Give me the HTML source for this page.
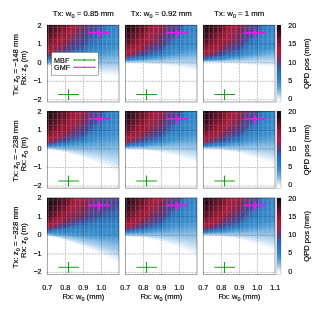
<!DOCTYPE html>
<html><head><meta charset="utf-8"><style>
html,body{margin:0;padding:0;background:#fff;width:313px;height:313px;overflow:hidden}
#c{position:absolute;left:0;top:0}
svg{position:absolute;left:0;top:0}
text{font-family:"Liberation Sans",sans-serif;fill:#000;stroke:#000;stroke-width:0.16px}
</style></head><body>
<svg width="313" height="313" viewBox="0 0 313 313"><defs><linearGradient id="cbg" x1="0" y1="0" x2="0" y2="1"><stop offset="0.0000" stop-color="#111111"/><stop offset="0.0475" stop-color="#1e0a12"/><stop offset="0.1188" stop-color="#4a0b20"/><stop offset="0.1901" stop-color="#7a0f2c"/><stop offset="0.2614" stop-color="#9a1636"/><stop offset="0.3327" stop-color="#b01a40"/><stop offset="0.3803" stop-color="#a81e48"/><stop offset="0.4278" stop-color="#8a2a5e"/><stop offset="0.4753" stop-color="#603a80"/><stop offset="0.5229" stop-color="#3f4c9c"/><stop offset="0.5704" stop-color="#2e62b0"/><stop offset="0.6322" stop-color="#2575c2"/><stop offset="0.6892" stop-color="#2a7ec6"/><stop offset="0.7368" stop-color="#2f88cc"/><stop offset="0.8128" stop-color="#58a2d9"/><stop offset="0.8794" stop-color="#95c3e6"/><stop offset="0.9174" stop-color="#c4def2"/><stop offset="0.9506" stop-color="#e8f2fa"/><stop offset="0.9982" stop-color="#ffffff"/></linearGradient></defs><rect x="47" y="25" width="6.3" height="6.3" fill="#370a19"/><rect x="53" y="25" width="6.3" height="6.3" fill="#5c0d24"/><rect x="59" y="25" width="6.3" height="6.3" fill="#77112b"/><rect x="65" y="25" width="6.3" height="6.3" fill="#981633"/><rect x="71" y="25" width="6.3" height="6.3" fill="#9e1c41"/><rect x="77" y="25" width="6.3" height="6.3" fill="#802757"/><rect x="83" y="25" width="6.3" height="6.3" fill="#5f377b"/><rect x="89" y="25" width="6.3" height="6.3" fill="#4b4391"/><rect x="95" y="25" width="6.3" height="6.3" fill="#3857a6"/><rect x="101" y="25" width="6.3" height="6.3" fill="#2e6eb8"/><rect x="107" y="25" width="6.3" height="6.3" fill="#2b7ec5"/><rect x="113" y="25" width="6.3" height="6.3" fill="#2e83c8"/><rect x="47" y="31" width="6.3" height="6.3" fill="#530c21"/><rect x="53" y="31" width="6.3" height="6.3" fill="#73102a"/><rect x="59" y="31" width="6.3" height="6.3" fill="#931532"/><rect x="65" y="31" width="6.3" height="6.3" fill="#a5193b"/><rect x="71" y="31" width="6.3" height="6.3" fill="#862552"/><rect x="77" y="31" width="6.3" height="6.3" fill="#683270"/><rect x="83" y="31" width="6.3" height="6.3" fill="#513f8c"/><rect x="89" y="31" width="6.3" height="6.3" fill="#3b52a1"/><rect x="95" y="31" width="6.3" height="6.3" fill="#2f69b5"/><rect x="101" y="31" width="6.3" height="6.3" fill="#2b7ac2"/><rect x="107" y="31" width="6.3" height="6.3" fill="#2e82c8"/><rect x="113" y="31" width="6.3" height="6.3" fill="#3086ca"/><rect x="47" y="37" width="6.3" height="6.3" fill="#701029"/><rect x="53" y="37" width="6.3" height="6.3" fill="#941532"/><rect x="59" y="37" width="6.3" height="6.3" fill="#a71839"/><rect x="65" y="37" width="6.3" height="6.3" fill="#90224b"/><rect x="71" y="37" width="6.3" height="6.3" fill="#683270"/><rect x="77" y="37" width="6.3" height="6.3" fill="#533e8a"/><rect x="83" y="37" width="6.3" height="6.3" fill="#404b9b"/><rect x="89" y="37" width="6.3" height="6.3" fill="#2f68b4"/><rect x="95" y="37" width="6.3" height="6.3" fill="#2c76bf"/><rect x="101" y="37" width="6.3" height="6.3" fill="#2d82c7"/><rect x="107" y="37" width="6.3" height="6.3" fill="#3187cb"/><rect x="113" y="37" width="6.3" height="6.3" fill="#348acd"/><rect x="47" y="43" width="6.3" height="6.3" fill="#961533"/><rect x="53" y="43" width="6.3" height="6.3" fill="#a31a3c"/><rect x="59" y="43" width="6.3" height="6.3" fill="#8e224d"/><rect x="65" y="43" width="6.3" height="6.3" fill="#683271"/><rect x="71" y="43" width="6.3" height="6.3" fill="#4e418f"/><rect x="77" y="43" width="6.3" height="6.3" fill="#3e4e9d"/><rect x="83" y="43" width="6.3" height="6.3" fill="#3067b3"/><rect x="89" y="43" width="6.3" height="6.3" fill="#2b78c1"/><rect x="95" y="43" width="6.3" height="6.3" fill="#2e83c8"/><rect x="101" y="43" width="6.3" height="6.3" fill="#3289cc"/><rect x="107" y="43" width="6.3" height="6.3" fill="#358dce"/><rect x="113" y="43" width="6.3" height="6.3" fill="#378fcf"/><rect x="47" y="49" width="6.3" height="6.3" fill="#9c1d43"/><rect x="53" y="49" width="6.3" height="6.3" fill="#702e67"/><rect x="59" y="49" width="6.3" height="6.3" fill="#533e8a"/><rect x="65" y="49" width="6.3" height="6.3" fill="#3e4e9d"/><rect x="71" y="49" width="6.3" height="6.3" fill="#3165b1"/><rect x="77" y="49" width="6.3" height="6.3" fill="#2e6eb8"/><rect x="83" y="49" width="6.3" height="6.3" fill="#2b7ec5"/><rect x="89" y="49" width="6.3" height="6.3" fill="#338acc"/><rect x="95" y="49" width="6.3" height="6.3" fill="#378fcf"/><rect x="101" y="49" width="6.3" height="6.3" fill="#3e94d2"/><rect x="107" y="49" width="6.3" height="6.3" fill="#4799d4"/><rect x="113" y="49" width="6.3" height="6.3" fill="#4e9dd7"/><rect x="47" y="55" width="6.3" height="6.3" fill="#3065b1"/><rect x="53" y="55" width="6.3" height="6.3" fill="#2d72bc"/><rect x="59" y="55" width="6.3" height="6.3" fill="#2b7dc5"/><rect x="65" y="55" width="6.3" height="6.3" fill="#3086ca"/><rect x="71" y="55" width="6.3" height="6.3" fill="#3a91d1"/><rect x="77" y="55" width="6.3" height="6.3" fill="#4497d4"/><rect x="83" y="55" width="6.3" height="6.3" fill="#4e9dd7"/><rect x="89" y="55" width="6.3" height="6.3" fill="#58a3da"/><rect x="95" y="55" width="6.3" height="6.3" fill="#60a8dc"/><rect x="101" y="55" width="6.3" height="6.3" fill="#6aadde"/><rect x="107" y="55" width="6.3" height="6.3" fill="#72b2e0"/><rect x="113" y="55" width="6.3" height="6.3" fill="#79b5e1"/><rect x="47" y="61" width="6.3" height="6.3" fill="#a5cdeb"/><rect x="53" y="61" width="6.3" height="6.3" fill="#9bc8e9"/><rect x="59" y="61" width="6.3" height="6.3" fill="#96c5e8"/><rect x="65" y="61" width="6.3" height="6.3" fill="#94c4e7"/><rect x="71" y="61" width="6.3" height="6.3" fill="#95c4e7"/><rect x="77" y="61" width="6.3" height="6.3" fill="#95c4e7"/><rect x="83" y="61" width="6.3" height="6.3" fill="#97c5e8"/><rect x="89" y="61" width="6.3" height="6.3" fill="#99c7e8"/><rect x="95" y="61" width="6.3" height="6.3" fill="#9cc8e9"/><rect x="101" y="61" width="6.3" height="6.3" fill="#9ec9e9"/><rect x="107" y="61" width="6.3" height="6.3" fill="#a0caea"/><rect x="113" y="61" width="6.3" height="6.3" fill="#a2cbea"/><rect x="71" y="67" width="6.3" height="6.3" fill="#f9fcfe"/><rect x="77" y="67" width="6.3" height="6.3" fill="#eff6fc"/><rect x="83" y="67" width="6.3" height="6.3" fill="#e7f1fa"/><rect x="89" y="67" width="6.3" height="6.3" fill="#e0eef8"/><rect x="95" y="67" width="6.3" height="6.3" fill="#dbebf7"/><rect x="101" y="67" width="6.3" height="6.3" fill="#d6e8f6"/><rect x="107" y="67" width="6.3" height="6.3" fill="#d3e6f5"/><rect x="113" y="67" width="6.3" height="6.3" fill="#d1e5f5"/><rect x="113" y="73" width="6.3" height="6.3" fill="#f9fcfe"/><rect x="125" y="25" width="6.3" height="6.3" fill="#200a12"/><rect x="131" y="25" width="6.3" height="6.3" fill="#400b1c"/><rect x="137" y="25" width="6.3" height="6.3" fill="#5f0e25"/><rect x="143" y="25" width="6.3" height="6.3" fill="#7c122c"/><rect x="149" y="25" width="6.3" height="6.3" fill="#9e1735"/><rect x="155" y="25" width="6.3" height="6.3" fill="#9d1d41"/><rect x="161" y="25" width="6.3" height="6.3" fill="#802756"/><rect x="167" y="25" width="6.3" height="6.3" fill="#593a83"/><rect x="173" y="25" width="6.3" height="6.3" fill="#4c4290"/><rect x="179" y="25" width="6.3" height="6.3" fill="#3068b3"/><rect x="185" y="25" width="6.3" height="6.3" fill="#2b7ec5"/><rect x="191" y="25" width="6.3" height="6.3" fill="#2e83c8"/><rect x="125" y="31" width="6.3" height="6.3" fill="#310a17"/><rect x="131" y="31" width="6.3" height="6.3" fill="#5a0d23"/><rect x="137" y="31" width="6.3" height="6.3" fill="#74102a"/><rect x="143" y="31" width="6.3" height="6.3" fill="#951533"/><rect x="149" y="31" width="6.3" height="6.3" fill="#a11b3e"/><rect x="155" y="31" width="6.3" height="6.3" fill="#8d234d"/><rect x="161" y="31" width="6.3" height="6.3" fill="#69326f"/><rect x="167" y="31" width="6.3" height="6.3" fill="#4e418e"/><rect x="173" y="31" width="6.3" height="6.3" fill="#3957a5"/><rect x="179" y="31" width="6.3" height="6.3" fill="#2b7ac2"/><rect x="185" y="31" width="6.3" height="6.3" fill="#2e82c8"/><rect x="191" y="31" width="6.3" height="6.3" fill="#3086ca"/><rect x="125" y="37" width="6.3" height="6.3" fill="#530c21"/><rect x="131" y="37" width="6.3" height="6.3" fill="#76112a"/><rect x="137" y="37" width="6.3" height="6.3" fill="#931532"/><rect x="143" y="37" width="6.3" height="6.3" fill="#a61939"/><rect x="149" y="37" width="6.3" height="6.3" fill="#8d234d"/><rect x="155" y="37" width="6.3" height="6.3" fill="#782a5c"/><rect x="161" y="37" width="6.3" height="6.3" fill="#533e8a"/><rect x="167" y="37" width="6.3" height="6.3" fill="#3956a4"/><rect x="173" y="37" width="6.3" height="6.3" fill="#2c75be"/><rect x="179" y="37" width="6.3" height="6.3" fill="#2d82c7"/><rect x="185" y="37" width="6.3" height="6.3" fill="#3187cb"/><rect x="191" y="37" width="6.3" height="6.3" fill="#348acd"/><rect x="125" y="43" width="6.3" height="6.3" fill="#78112b"/><rect x="131" y="43" width="6.3" height="6.3" fill="#991634"/><rect x="137" y="43" width="6.3" height="6.3" fill="#a61939"/><rect x="143" y="43" width="6.3" height="6.3" fill="#8c234e"/><rect x="149" y="43" width="6.3" height="6.3" fill="#69326e"/><rect x="155" y="43" width="6.3" height="6.3" fill="#523e8a"/><rect x="161" y="43" width="6.3" height="6.3" fill="#3a55a3"/><rect x="167" y="43" width="6.3" height="6.3" fill="#2b78c1"/><rect x="173" y="43" width="6.3" height="6.3" fill="#2e83c8"/><rect x="179" y="43" width="6.3" height="6.3" fill="#3289cc"/><rect x="185" y="43" width="6.3" height="6.3" fill="#358dce"/><rect x="191" y="43" width="6.3" height="6.3" fill="#378fcf"/><rect x="125" y="49" width="6.3" height="6.3" fill="#a31737"/><rect x="131" y="49" width="6.3" height="6.3" fill="#9a1e44"/><rect x="137" y="49" width="6.3" height="6.3" fill="#722d63"/><rect x="143" y="49" width="6.3" height="6.3" fill="#513f8b"/><rect x="149" y="49" width="6.3" height="6.3" fill="#3b52a1"/><rect x="155" y="49" width="6.3" height="6.3" fill="#3067b3"/><rect x="161" y="49" width="6.3" height="6.3" fill="#2b7ec5"/><rect x="167" y="49" width="6.3" height="6.3" fill="#338acc"/><rect x="173" y="49" width="6.3" height="6.3" fill="#378fcf"/><rect x="179" y="49" width="6.3" height="6.3" fill="#4195d3"/><rect x="185" y="49" width="6.3" height="6.3" fill="#4c9cd6"/><rect x="191" y="49" width="6.3" height="6.3" fill="#54a1d9"/><rect x="125" y="55" width="6.3" height="6.3" fill="#3d509f"/><rect x="131" y="55" width="6.3" height="6.3" fill="#2e6fb9"/><rect x="137" y="55" width="6.3" height="6.3" fill="#2b7dc5"/><rect x="143" y="55" width="6.3" height="6.3" fill="#3086ca"/><rect x="149" y="55" width="6.3" height="6.3" fill="#3c92d1"/><rect x="155" y="55" width="6.3" height="6.3" fill="#4e9dd7"/><rect x="161" y="55" width="6.3" height="6.3" fill="#5ea7db"/><rect x="167" y="55" width="6.3" height="6.3" fill="#71b1e0"/><rect x="173" y="55" width="6.3" height="6.3" fill="#7eb8e3"/><rect x="179" y="55" width="6.3" height="6.3" fill="#86bce4"/><rect x="185" y="55" width="6.3" height="6.3" fill="#8abee5"/><rect x="191" y="55" width="6.3" height="6.3" fill="#8cc0e6"/><rect x="149" y="61" width="6.3" height="6.3" fill="#fafcfe"/><rect x="155" y="61" width="6.3" height="6.3" fill="#eff6fc"/><rect x="161" y="61" width="6.3" height="6.3" fill="#e5f0f9"/><rect x="167" y="61" width="6.3" height="6.3" fill="#dbebf7"/><rect x="173" y="61" width="6.3" height="6.3" fill="#d5e7f6"/><rect x="179" y="61" width="6.3" height="6.3" fill="#cfe4f4"/><rect x="185" y="61" width="6.3" height="6.3" fill="#c9e1f3"/><rect x="191" y="61" width="6.3" height="6.3" fill="#c5dff2"/><rect x="191" y="67" width="6.3" height="6.3" fill="#fafcfe"/><rect x="203" y="25" width="6.3" height="6.3" fill="#200a12"/><rect x="209" y="25" width="6.3" height="6.3" fill="#400b1c"/><rect x="215" y="25" width="6.3" height="6.3" fill="#5f0e25"/><rect x="221" y="25" width="6.3" height="6.3" fill="#7c122c"/><rect x="227" y="25" width="6.3" height="6.3" fill="#9e1735"/><rect x="233" y="25" width="6.3" height="6.3" fill="#9d1d41"/><rect x="239" y="25" width="6.3" height="6.3" fill="#802756"/><rect x="245" y="25" width="6.3" height="6.3" fill="#593a83"/><rect x="251" y="25" width="6.3" height="6.3" fill="#4c4290"/><rect x="257" y="25" width="6.3" height="6.3" fill="#3068b3"/><rect x="263" y="25" width="6.3" height="6.3" fill="#2b7ec5"/><rect x="269" y="25" width="6.3" height="6.3" fill="#2e83c8"/><rect x="203" y="31" width="6.3" height="6.3" fill="#310a17"/><rect x="209" y="31" width="6.3" height="6.3" fill="#5a0d23"/><rect x="215" y="31" width="6.3" height="6.3" fill="#74102a"/><rect x="221" y="31" width="6.3" height="6.3" fill="#951533"/><rect x="227" y="31" width="6.3" height="6.3" fill="#a11b3e"/><rect x="233" y="31" width="6.3" height="6.3" fill="#8d234d"/><rect x="239" y="31" width="6.3" height="6.3" fill="#69326f"/><rect x="245" y="31" width="6.3" height="6.3" fill="#4e418e"/><rect x="251" y="31" width="6.3" height="6.3" fill="#3957a5"/><rect x="257" y="31" width="6.3" height="6.3" fill="#2b7ac2"/><rect x="263" y="31" width="6.3" height="6.3" fill="#2e82c8"/><rect x="269" y="31" width="6.3" height="6.3" fill="#3086ca"/><rect x="203" y="37" width="6.3" height="6.3" fill="#530c21"/><rect x="209" y="37" width="6.3" height="6.3" fill="#76112a"/><rect x="215" y="37" width="6.3" height="6.3" fill="#931532"/><rect x="221" y="37" width="6.3" height="6.3" fill="#a61939"/><rect x="227" y="37" width="6.3" height="6.3" fill="#8d234d"/><rect x="233" y="37" width="6.3" height="6.3" fill="#782a5c"/><rect x="239" y="37" width="6.3" height="6.3" fill="#533e8a"/><rect x="245" y="37" width="6.3" height="6.3" fill="#3956a4"/><rect x="251" y="37" width="6.3" height="6.3" fill="#2c75be"/><rect x="257" y="37" width="6.3" height="6.3" fill="#2d82c7"/><rect x="263" y="37" width="6.3" height="6.3" fill="#3187cb"/><rect x="269" y="37" width="6.3" height="6.3" fill="#348acd"/><rect x="203" y="43" width="6.3" height="6.3" fill="#78112b"/><rect x="209" y="43" width="6.3" height="6.3" fill="#991634"/><rect x="215" y="43" width="6.3" height="6.3" fill="#a61939"/><rect x="221" y="43" width="6.3" height="6.3" fill="#8c234e"/><rect x="227" y="43" width="6.3" height="6.3" fill="#69326e"/><rect x="233" y="43" width="6.3" height="6.3" fill="#523e8a"/><rect x="239" y="43" width="6.3" height="6.3" fill="#3a55a3"/><rect x="245" y="43" width="6.3" height="6.3" fill="#2b78c1"/><rect x="251" y="43" width="6.3" height="6.3" fill="#2e83c8"/><rect x="257" y="43" width="6.3" height="6.3" fill="#3289cc"/><rect x="263" y="43" width="6.3" height="6.3" fill="#358dce"/><rect x="269" y="43" width="6.3" height="6.3" fill="#378fcf"/><rect x="203" y="49" width="6.3" height="6.3" fill="#a31737"/><rect x="209" y="49" width="6.3" height="6.3" fill="#9a1e44"/><rect x="215" y="49" width="6.3" height="6.3" fill="#722d63"/><rect x="221" y="49" width="6.3" height="6.3" fill="#513f8b"/><rect x="227" y="49" width="6.3" height="6.3" fill="#3b52a1"/><rect x="233" y="49" width="6.3" height="6.3" fill="#3067b3"/><rect x="239" y="49" width="6.3" height="6.3" fill="#2b7ec5"/><rect x="245" y="49" width="6.3" height="6.3" fill="#338acc"/><rect x="251" y="49" width="6.3" height="6.3" fill="#378fcf"/><rect x="257" y="49" width="6.3" height="6.3" fill="#4296d3"/><rect x="263" y="49" width="6.3" height="6.3" fill="#4f9ed7"/><rect x="269" y="49" width="6.3" height="6.3" fill="#59a4da"/><rect x="203" y="55" width="6.3" height="6.3" fill="#3d509f"/><rect x="209" y="55" width="6.3" height="6.3" fill="#2e6fb9"/><rect x="215" y="55" width="6.3" height="6.3" fill="#2b7dc5"/><rect x="221" y="55" width="6.3" height="6.3" fill="#3086ca"/><rect x="227" y="55" width="6.3" height="6.3" fill="#3d93d1"/><rect x="233" y="55" width="6.3" height="6.3" fill="#529fd8"/><rect x="239" y="55" width="6.3" height="6.3" fill="#66abdd"/><rect x="245" y="55" width="6.3" height="6.3" fill="#7db8e2"/><rect x="251" y="55" width="6.3" height="6.3" fill="#89bee5"/><rect x="257" y="55" width="6.3" height="6.3" fill="#90c2e6"/><rect x="263" y="55" width="6.3" height="6.3" fill="#95c5e7"/><rect x="269" y="55" width="6.3" height="6.3" fill="#99c7e8"/><rect x="239" y="61" width="6.3" height="6.3" fill="#fbfdfe"/><rect x="245" y="61" width="6.3" height="6.3" fill="#f2f8fc"/><rect x="251" y="61" width="6.3" height="6.3" fill="#ecf4fb"/><rect x="257" y="61" width="6.3" height="6.3" fill="#e8f2fa"/><rect x="263" y="61" width="6.3" height="6.3" fill="#e3eff9"/><rect x="269" y="61" width="6.3" height="6.3" fill="#dfedf8"/><rect x="47" y="111.2" width="6.3" height="6.3" fill="#200a12"/><rect x="53" y="111.2" width="6.3" height="6.3" fill="#400b1c"/><rect x="59" y="111.2" width="6.3" height="6.3" fill="#5f0e25"/><rect x="65" y="111.2" width="6.3" height="6.3" fill="#7c122c"/><rect x="71" y="111.2" width="6.3" height="6.3" fill="#9e1735"/><rect x="77" y="111.2" width="6.3" height="6.3" fill="#9d1d41"/><rect x="83" y="111.2" width="6.3" height="6.3" fill="#802756"/><rect x="89" y="111.2" width="6.3" height="6.3" fill="#593a83"/><rect x="95" y="111.2" width="6.3" height="6.3" fill="#4c4290"/><rect x="101" y="111.2" width="6.3" height="6.3" fill="#3068b3"/><rect x="107" y="111.2" width="6.3" height="6.3" fill="#2b7ec5"/><rect x="113" y="111.2" width="6.3" height="6.3" fill="#2e83c8"/><rect x="47" y="117.2" width="6.3" height="6.3" fill="#310a17"/><rect x="53" y="117.2" width="6.3" height="6.3" fill="#5a0d23"/><rect x="59" y="117.2" width="6.3" height="6.3" fill="#74102a"/><rect x="65" y="117.2" width="6.3" height="6.3" fill="#951533"/><rect x="71" y="117.2" width="6.3" height="6.3" fill="#a11b3e"/><rect x="77" y="117.2" width="6.3" height="6.3" fill="#8d234d"/><rect x="83" y="117.2" width="6.3" height="6.3" fill="#69326f"/><rect x="89" y="117.2" width="6.3" height="6.3" fill="#4e418e"/><rect x="95" y="117.2" width="6.3" height="6.3" fill="#3957a5"/><rect x="101" y="117.2" width="6.3" height="6.3" fill="#2b7ac2"/><rect x="107" y="117.2" width="6.3" height="6.3" fill="#2e82c8"/><rect x="113" y="117.2" width="6.3" height="6.3" fill="#3086ca"/><rect x="47" y="123.2" width="6.3" height="6.3" fill="#530c21"/><rect x="53" y="123.2" width="6.3" height="6.3" fill="#76112a"/><rect x="59" y="123.2" width="6.3" height="6.3" fill="#931532"/><rect x="65" y="123.2" width="6.3" height="6.3" fill="#a61939"/><rect x="71" y="123.2" width="6.3" height="6.3" fill="#8d234d"/><rect x="77" y="123.2" width="6.3" height="6.3" fill="#782a5c"/><rect x="83" y="123.2" width="6.3" height="6.3" fill="#533e8a"/><rect x="89" y="123.2" width="6.3" height="6.3" fill="#3956a4"/><rect x="95" y="123.2" width="6.3" height="6.3" fill="#2c75be"/><rect x="101" y="123.2" width="6.3" height="6.3" fill="#2d82c7"/><rect x="107" y="123.2" width="6.3" height="6.3" fill="#3187cb"/><rect x="113" y="123.2" width="6.3" height="6.3" fill="#348acd"/><rect x="47" y="129.2" width="6.3" height="6.3" fill="#78112b"/><rect x="53" y="129.2" width="6.3" height="6.3" fill="#991634"/><rect x="59" y="129.2" width="6.3" height="6.3" fill="#a61939"/><rect x="65" y="129.2" width="6.3" height="6.3" fill="#8c234e"/><rect x="71" y="129.2" width="6.3" height="6.3" fill="#69326e"/><rect x="77" y="129.2" width="6.3" height="6.3" fill="#523e8a"/><rect x="83" y="129.2" width="6.3" height="6.3" fill="#3a55a3"/><rect x="89" y="129.2" width="6.3" height="6.3" fill="#2b78c1"/><rect x="95" y="129.2" width="6.3" height="6.3" fill="#2e83c8"/><rect x="101" y="129.2" width="6.3" height="6.3" fill="#3289cc"/><rect x="107" y="129.2" width="6.3" height="6.3" fill="#358dce"/><rect x="113" y="129.2" width="6.3" height="6.3" fill="#378fcf"/><rect x="47" y="135.2" width="6.3" height="6.3" fill="#a31737"/><rect x="53" y="135.2" width="6.3" height="6.3" fill="#9a1e44"/><rect x="59" y="135.2" width="6.3" height="6.3" fill="#722d63"/><rect x="65" y="135.2" width="6.3" height="6.3" fill="#513f8b"/><rect x="71" y="135.2" width="6.3" height="6.3" fill="#3b52a1"/><rect x="77" y="135.2" width="6.3" height="6.3" fill="#3067b3"/><rect x="83" y="135.2" width="6.3" height="6.3" fill="#2b7ec5"/><rect x="89" y="135.2" width="6.3" height="6.3" fill="#338acc"/><rect x="95" y="135.2" width="6.3" height="6.3" fill="#378fcf"/><rect x="101" y="135.2" width="6.3" height="6.3" fill="#3d93d2"/><rect x="107" y="135.2" width="6.3" height="6.3" fill="#4497d4"/><rect x="113" y="135.2" width="6.3" height="6.3" fill="#499ad5"/><rect x="47" y="141.2" width="6.3" height="6.3" fill="#3d509f"/><rect x="53" y="141.2" width="6.3" height="6.3" fill="#2e6fb9"/><rect x="59" y="141.2" width="6.3" height="6.3" fill="#2b7dc5"/><rect x="65" y="141.2" width="6.3" height="6.3" fill="#3086ca"/><rect x="71" y="141.2" width="6.3" height="6.3" fill="#3a91d1"/><rect x="77" y="141.2" width="6.3" height="6.3" fill="#4497d4"/><rect x="83" y="141.2" width="6.3" height="6.3" fill="#4d9dd6"/><rect x="89" y="141.2" width="6.3" height="6.3" fill="#55a2d9"/><rect x="95" y="141.2" width="6.3" height="6.3" fill="#5ba5da"/><rect x="101" y="141.2" width="6.3" height="6.3" fill="#5ea7db"/><rect x="107" y="141.2" width="6.3" height="6.3" fill="#61a8dc"/><rect x="113" y="141.2" width="6.3" height="6.3" fill="#64aadd"/><rect x="53" y="147.2" width="6.3" height="6.3" fill="#f0f7fc"/><rect x="59" y="147.2" width="6.3" height="6.3" fill="#cae1f3"/><rect x="65" y="147.2" width="6.3" height="6.3" fill="#b1d3ee"/><rect x="71" y="147.2" width="6.3" height="6.3" fill="#a1cbea"/><rect x="77" y="147.2" width="6.3" height="6.3" fill="#98c6e8"/><rect x="83" y="147.2" width="6.3" height="6.3" fill="#93c3e7"/><rect x="89" y="147.2" width="6.3" height="6.3" fill="#91c2e6"/><rect x="95" y="147.2" width="6.3" height="6.3" fill="#8fc1e6"/><rect x="101" y="147.2" width="6.3" height="6.3" fill="#8dc0e6"/><rect x="107" y="147.2" width="6.3" height="6.3" fill="#8bbfe5"/><rect x="113" y="147.2" width="6.3" height="6.3" fill="#8abee5"/><rect x="77" y="153.2" width="6.3" height="6.3" fill="#f4f9fd"/><rect x="83" y="153.2" width="6.3" height="6.3" fill="#dfedf8"/><rect x="89" y="153.2" width="6.3" height="6.3" fill="#cee4f4"/><rect x="95" y="153.2" width="6.3" height="6.3" fill="#c2ddf2"/><rect x="101" y="153.2" width="6.3" height="6.3" fill="#b8d8ef"/><rect x="107" y="153.2" width="6.3" height="6.3" fill="#afd3ed"/><rect x="113" y="153.2" width="6.3" height="6.3" fill="#a9cfec"/><rect x="95" y="159.2" width="6.3" height="6.3" fill="#f4f9fd"/><rect x="101" y="159.2" width="6.3" height="6.3" fill="#e5f0f9"/><rect x="107" y="159.2" width="6.3" height="6.3" fill="#d7e9f6"/><rect x="113" y="159.2" width="6.3" height="6.3" fill="#cde3f4"/><rect x="107" y="165.2" width="6.3" height="6.3" fill="#fafcfe"/><rect x="113" y="165.2" width="6.3" height="6.3" fill="#eef5fb"/><rect x="125" y="111.2" width="6.3" height="6.3" fill="#200a12"/><rect x="131" y="111.2" width="6.3" height="6.3" fill="#400b1c"/><rect x="137" y="111.2" width="6.3" height="6.3" fill="#5f0e25"/><rect x="143" y="111.2" width="6.3" height="6.3" fill="#7c122c"/><rect x="149" y="111.2" width="6.3" height="6.3" fill="#9e1735"/><rect x="155" y="111.2" width="6.3" height="6.3" fill="#9d1d41"/><rect x="161" y="111.2" width="6.3" height="6.3" fill="#802756"/><rect x="167" y="111.2" width="6.3" height="6.3" fill="#593a83"/><rect x="173" y="111.2" width="6.3" height="6.3" fill="#4c4290"/><rect x="179" y="111.2" width="6.3" height="6.3" fill="#3068b3"/><rect x="185" y="111.2" width="6.3" height="6.3" fill="#2b7ec5"/><rect x="191" y="111.2" width="6.3" height="6.3" fill="#2e83c8"/><rect x="125" y="117.2" width="6.3" height="6.3" fill="#310a17"/><rect x="131" y="117.2" width="6.3" height="6.3" fill="#5a0d23"/><rect x="137" y="117.2" width="6.3" height="6.3" fill="#74102a"/><rect x="143" y="117.2" width="6.3" height="6.3" fill="#951533"/><rect x="149" y="117.2" width="6.3" height="6.3" fill="#a11b3e"/><rect x="155" y="117.2" width="6.3" height="6.3" fill="#8d234d"/><rect x="161" y="117.2" width="6.3" height="6.3" fill="#69326f"/><rect x="167" y="117.2" width="6.3" height="6.3" fill="#4e418e"/><rect x="173" y="117.2" width="6.3" height="6.3" fill="#3957a5"/><rect x="179" y="117.2" width="6.3" height="6.3" fill="#2b7ac2"/><rect x="185" y="117.2" width="6.3" height="6.3" fill="#2e82c8"/><rect x="191" y="117.2" width="6.3" height="6.3" fill="#3086ca"/><rect x="125" y="123.2" width="6.3" height="6.3" fill="#530c21"/><rect x="131" y="123.2" width="6.3" height="6.3" fill="#76112a"/><rect x="137" y="123.2" width="6.3" height="6.3" fill="#931532"/><rect x="143" y="123.2" width="6.3" height="6.3" fill="#a61939"/><rect x="149" y="123.2" width="6.3" height="6.3" fill="#8d234d"/><rect x="155" y="123.2" width="6.3" height="6.3" fill="#782a5c"/><rect x="161" y="123.2" width="6.3" height="6.3" fill="#533e8a"/><rect x="167" y="123.2" width="6.3" height="6.3" fill="#3956a4"/><rect x="173" y="123.2" width="6.3" height="6.3" fill="#2c75be"/><rect x="179" y="123.2" width="6.3" height="6.3" fill="#2d82c7"/><rect x="185" y="123.2" width="6.3" height="6.3" fill="#3187cb"/><rect x="191" y="123.2" width="6.3" height="6.3" fill="#348acd"/><rect x="125" y="129.2" width="6.3" height="6.3" fill="#78112b"/><rect x="131" y="129.2" width="6.3" height="6.3" fill="#991634"/><rect x="137" y="129.2" width="6.3" height="6.3" fill="#a61939"/><rect x="143" y="129.2" width="6.3" height="6.3" fill="#8c234e"/><rect x="149" y="129.2" width="6.3" height="6.3" fill="#69326e"/><rect x="155" y="129.2" width="6.3" height="6.3" fill="#523e8a"/><rect x="161" y="129.2" width="6.3" height="6.3" fill="#3a55a3"/><rect x="167" y="129.2" width="6.3" height="6.3" fill="#2b78c1"/><rect x="173" y="129.2" width="6.3" height="6.3" fill="#2e83c8"/><rect x="179" y="129.2" width="6.3" height="6.3" fill="#3289cc"/><rect x="185" y="129.2" width="6.3" height="6.3" fill="#358dce"/><rect x="191" y="129.2" width="6.3" height="6.3" fill="#378fcf"/><rect x="125" y="135.2" width="6.3" height="6.3" fill="#a31737"/><rect x="131" y="135.2" width="6.3" height="6.3" fill="#9a1e44"/><rect x="137" y="135.2" width="6.3" height="6.3" fill="#722d63"/><rect x="143" y="135.2" width="6.3" height="6.3" fill="#513f8b"/><rect x="149" y="135.2" width="6.3" height="6.3" fill="#3b52a1"/><rect x="155" y="135.2" width="6.3" height="6.3" fill="#3067b3"/><rect x="161" y="135.2" width="6.3" height="6.3" fill="#2b7ec5"/><rect x="167" y="135.2" width="6.3" height="6.3" fill="#338acc"/><rect x="173" y="135.2" width="6.3" height="6.3" fill="#378fcf"/><rect x="179" y="135.2" width="6.3" height="6.3" fill="#3f94d2"/><rect x="185" y="135.2" width="6.3" height="6.3" fill="#489ad5"/><rect x="191" y="135.2" width="6.3" height="6.3" fill="#4f9ed7"/><rect x="125" y="141.2" width="6.3" height="6.3" fill="#3d509f"/><rect x="131" y="141.2" width="6.3" height="6.3" fill="#2e6fb9"/><rect x="137" y="141.2" width="6.3" height="6.3" fill="#2b7dc5"/><rect x="143" y="141.2" width="6.3" height="6.3" fill="#3086ca"/><rect x="149" y="141.2" width="6.3" height="6.3" fill="#3c92d1"/><rect x="155" y="141.2" width="6.3" height="6.3" fill="#4b9bd6"/><rect x="161" y="141.2" width="6.3" height="6.3" fill="#58a3da"/><rect x="167" y="141.2" width="6.3" height="6.3" fill="#64aadd"/><rect x="173" y="141.2" width="6.3" height="6.3" fill="#6fb0df"/><rect x="179" y="141.2" width="6.3" height="6.3" fill="#75b3e1"/><rect x="185" y="141.2" width="6.3" height="6.3" fill="#79b5e1"/><rect x="191" y="141.2" width="6.3" height="6.3" fill="#7cb7e2"/><rect x="143" y="147.2" width="6.3" height="6.3" fill="#f6fafd"/><rect x="149" y="147.2" width="6.3" height="6.3" fill="#e2eff9"/><rect x="155" y="147.2" width="6.3" height="6.3" fill="#d4e7f6"/><rect x="161" y="147.2" width="6.3" height="6.3" fill="#c9e1f3"/><rect x="167" y="147.2" width="6.3" height="6.3" fill="#bfdbf1"/><rect x="173" y="147.2" width="6.3" height="6.3" fill="#b8d7ef"/><rect x="179" y="147.2" width="6.3" height="6.3" fill="#b1d4ee"/><rect x="185" y="147.2" width="6.3" height="6.3" fill="#abd0ec"/><rect x="191" y="147.2" width="6.3" height="6.3" fill="#a7ceeb"/><rect x="173" y="153.2" width="6.3" height="6.3" fill="#fefeff"/><rect x="179" y="153.2" width="6.3" height="6.3" fill="#eff6fc"/><rect x="185" y="153.2" width="6.3" height="6.3" fill="#e2eff9"/><rect x="191" y="153.2" width="6.3" height="6.3" fill="#d7e8f6"/><rect x="203" y="111.2" width="6.3" height="6.3" fill="#200a12"/><rect x="209" y="111.2" width="6.3" height="6.3" fill="#400b1c"/><rect x="215" y="111.2" width="6.3" height="6.3" fill="#5f0e25"/><rect x="221" y="111.2" width="6.3" height="6.3" fill="#7c122c"/><rect x="227" y="111.2" width="6.3" height="6.3" fill="#9e1735"/><rect x="233" y="111.2" width="6.3" height="6.3" fill="#9d1d41"/><rect x="239" y="111.2" width="6.3" height="6.3" fill="#802756"/><rect x="245" y="111.2" width="6.3" height="6.3" fill="#593a83"/><rect x="251" y="111.2" width="6.3" height="6.3" fill="#4c4290"/><rect x="257" y="111.2" width="6.3" height="6.3" fill="#3068b3"/><rect x="263" y="111.2" width="6.3" height="6.3" fill="#2b7ec5"/><rect x="269" y="111.2" width="6.3" height="6.3" fill="#2e83c8"/><rect x="203" y="117.2" width="6.3" height="6.3" fill="#310a17"/><rect x="209" y="117.2" width="6.3" height="6.3" fill="#5a0d23"/><rect x="215" y="117.2" width="6.3" height="6.3" fill="#74102a"/><rect x="221" y="117.2" width="6.3" height="6.3" fill="#951533"/><rect x="227" y="117.2" width="6.3" height="6.3" fill="#a11b3e"/><rect x="233" y="117.2" width="6.3" height="6.3" fill="#8d234d"/><rect x="239" y="117.2" width="6.3" height="6.3" fill="#69326f"/><rect x="245" y="117.2" width="6.3" height="6.3" fill="#4e418e"/><rect x="251" y="117.2" width="6.3" height="6.3" fill="#3957a5"/><rect x="257" y="117.2" width="6.3" height="6.3" fill="#2b7ac2"/><rect x="263" y="117.2" width="6.3" height="6.3" fill="#2e82c8"/><rect x="269" y="117.2" width="6.3" height="6.3" fill="#3086ca"/><rect x="203" y="123.2" width="6.3" height="6.3" fill="#530c21"/><rect x="209" y="123.2" width="6.3" height="6.3" fill="#76112a"/><rect x="215" y="123.2" width="6.3" height="6.3" fill="#931532"/><rect x="221" y="123.2" width="6.3" height="6.3" fill="#a61939"/><rect x="227" y="123.2" width="6.3" height="6.3" fill="#8d234d"/><rect x="233" y="123.2" width="6.3" height="6.3" fill="#782a5c"/><rect x="239" y="123.2" width="6.3" height="6.3" fill="#533e8a"/><rect x="245" y="123.2" width="6.3" height="6.3" fill="#3956a4"/><rect x="251" y="123.2" width="6.3" height="6.3" fill="#2c75be"/><rect x="257" y="123.2" width="6.3" height="6.3" fill="#2d82c7"/><rect x="263" y="123.2" width="6.3" height="6.3" fill="#3187cb"/><rect x="269" y="123.2" width="6.3" height="6.3" fill="#348acd"/><rect x="203" y="129.2" width="6.3" height="6.3" fill="#78112b"/><rect x="209" y="129.2" width="6.3" height="6.3" fill="#991634"/><rect x="215" y="129.2" width="6.3" height="6.3" fill="#a61939"/><rect x="221" y="129.2" width="6.3" height="6.3" fill="#8c234e"/><rect x="227" y="129.2" width="6.3" height="6.3" fill="#69326e"/><rect x="233" y="129.2" width="6.3" height="6.3" fill="#523e8a"/><rect x="239" y="129.2" width="6.3" height="6.3" fill="#3a55a3"/><rect x="245" y="129.2" width="6.3" height="6.3" fill="#2b78c1"/><rect x="251" y="129.2" width="6.3" height="6.3" fill="#2e83c8"/><rect x="257" y="129.2" width="6.3" height="6.3" fill="#3289cc"/><rect x="263" y="129.2" width="6.3" height="6.3" fill="#358dce"/><rect x="269" y="129.2" width="6.3" height="6.3" fill="#378fcf"/><rect x="203" y="135.2" width="6.3" height="6.3" fill="#a31737"/><rect x="209" y="135.2" width="6.3" height="6.3" fill="#9a1e44"/><rect x="215" y="135.2" width="6.3" height="6.3" fill="#722d63"/><rect x="221" y="135.2" width="6.3" height="6.3" fill="#513f8b"/><rect x="227" y="135.2" width="6.3" height="6.3" fill="#3b52a1"/><rect x="233" y="135.2" width="6.3" height="6.3" fill="#3067b3"/><rect x="239" y="135.2" width="6.3" height="6.3" fill="#2b7ec5"/><rect x="245" y="135.2" width="6.3" height="6.3" fill="#338acc"/><rect x="251" y="135.2" width="6.3" height="6.3" fill="#378fcf"/><rect x="257" y="135.2" width="6.3" height="6.3" fill="#3f94d2"/><rect x="263" y="135.2" width="6.3" height="6.3" fill="#4799d5"/><rect x="269" y="135.2" width="6.3" height="6.3" fill="#4e9dd6"/><rect x="203" y="141.2" width="6.3" height="6.3" fill="#3d509f"/><rect x="209" y="141.2" width="6.3" height="6.3" fill="#2e6fb9"/><rect x="215" y="141.2" width="6.3" height="6.3" fill="#2b7dc5"/><rect x="221" y="141.2" width="6.3" height="6.3" fill="#3086ca"/><rect x="227" y="141.2" width="6.3" height="6.3" fill="#3b92d1"/><rect x="233" y="141.2" width="6.3" height="6.3" fill="#4a9bd5"/><rect x="239" y="141.2" width="6.3" height="6.3" fill="#56a2d9"/><rect x="245" y="141.2" width="6.3" height="6.3" fill="#60a8dc"/><rect x="251" y="141.2" width="6.3" height="6.3" fill="#6aadde"/><rect x="257" y="141.2" width="6.3" height="6.3" fill="#70b0df"/><rect x="263" y="141.2" width="6.3" height="6.3" fill="#73b2e0"/><rect x="269" y="141.2" width="6.3" height="6.3" fill="#76b4e1"/><rect x="221" y="147.2" width="6.3" height="6.3" fill="#f2f8fc"/><rect x="227" y="147.2" width="6.3" height="6.3" fill="#daeaf7"/><rect x="233" y="147.2" width="6.3" height="6.3" fill="#cbe2f4"/><rect x="239" y="147.2" width="6.3" height="6.3" fill="#bfdbf1"/><rect x="245" y="147.2" width="6.3" height="6.3" fill="#b5d6ef"/><rect x="251" y="147.2" width="6.3" height="6.3" fill="#aed2ed"/><rect x="257" y="147.2" width="6.3" height="6.3" fill="#a8cfec"/><rect x="263" y="147.2" width="6.3" height="6.3" fill="#a2ccea"/><rect x="269" y="147.2" width="6.3" height="6.3" fill="#9ec9e9"/><rect x="251" y="153.2" width="6.3" height="6.3" fill="#f2f8fc"/><rect x="257" y="153.2" width="6.3" height="6.3" fill="#e4f0f9"/><rect x="263" y="153.2" width="6.3" height="6.3" fill="#d6e8f6"/><rect x="269" y="153.2" width="6.3" height="6.3" fill="#cce2f4"/><rect x="269" y="159.2" width="6.3" height="6.3" fill="#f4f9fd"/><rect x="47" y="197.6" width="6.3" height="6.3" fill="#190b10"/><rect x="53" y="197.6" width="6.3" height="6.3" fill="#300a17"/><rect x="59" y="197.6" width="6.3" height="6.3" fill="#510c20"/><rect x="65" y="197.6" width="6.3" height="6.3" fill="#6c0f28"/><rect x="71" y="197.6" width="6.3" height="6.3" fill="#9d1635"/><rect x="77" y="197.6" width="6.3" height="6.3" fill="#9d1d42"/><rect x="83" y="197.6" width="6.3" height="6.3" fill="#8d234d"/><rect x="89" y="197.6" width="6.3" height="6.3" fill="#702e67"/><rect x="95" y="197.6" width="6.3" height="6.3" fill="#5c3980"/><rect x="101" y="197.6" width="6.3" height="6.3" fill="#533e8a"/><rect x="107" y="197.6" width="6.3" height="6.3" fill="#4e418e"/><rect x="113" y="197.6" width="6.3" height="6.3" fill="#4c4391"/><rect x="47" y="203.6" width="6.3" height="6.3" fill="#250a13"/><rect x="53" y="203.6" width="6.3" height="6.3" fill="#4b0c1f"/><rect x="59" y="203.6" width="6.3" height="6.3" fill="#670f27"/><rect x="65" y="203.6" width="6.3" height="6.3" fill="#8f1431"/><rect x="71" y="203.6" width="6.3" height="6.3" fill="#9f1c40"/><rect x="77" y="203.6" width="6.3" height="6.3" fill="#92214a"/><rect x="83" y="203.6" width="6.3" height="6.3" fill="#7f2757"/><rect x="89" y="203.6" width="6.3" height="6.3" fill="#5f377c"/><rect x="95" y="203.6" width="6.3" height="6.3" fill="#523e8b"/><rect x="101" y="203.6" width="6.3" height="6.3" fill="#4d418f"/><rect x="107" y="203.6" width="6.3" height="6.3" fill="#4a4492"/><rect x="113" y="203.6" width="6.3" height="6.3" fill="#3f4d9d"/><rect x="47" y="209.6" width="6.3" height="6.3" fill="#400b1c"/><rect x="53" y="209.6" width="6.3" height="6.3" fill="#690f27"/><rect x="59" y="209.6" width="6.3" height="6.3" fill="#8b1430"/><rect x="65" y="209.6" width="6.3" height="6.3" fill="#a5193b"/><rect x="71" y="209.6" width="6.3" height="6.3" fill="#90224b"/><rect x="77" y="209.6" width="6.3" height="6.3" fill="#832654"/><rect x="83" y="209.6" width="6.3" height="6.3" fill="#683270"/><rect x="89" y="209.6" width="6.3" height="6.3" fill="#513f8c"/><rect x="95" y="209.6" width="6.3" height="6.3" fill="#4b4391"/><rect x="101" y="209.6" width="6.3" height="6.3" fill="#3f4c9c"/><rect x="107" y="209.6" width="6.3" height="6.3" fill="#365ba9"/><rect x="113" y="209.6" width="6.3" height="6.3" fill="#3165b1"/><rect x="47" y="215.6" width="6.3" height="6.3" fill="#6d0f28"/><rect x="53" y="215.6" width="6.3" height="6.3" fill="#971633"/><rect x="59" y="215.6" width="6.3" height="6.3" fill="#a5193b"/><rect x="65" y="215.6" width="6.3" height="6.3" fill="#8b234f"/><rect x="71" y="215.6" width="6.3" height="6.3" fill="#7b295a"/><rect x="77" y="215.6" width="6.3" height="6.3" fill="#653473"/><rect x="83" y="215.6" width="6.3" height="6.3" fill="#4b4391"/><rect x="89" y="215.6" width="6.3" height="6.3" fill="#3b53a2"/><rect x="95" y="215.6" width="6.3" height="6.3" fill="#3164b0"/><rect x="101" y="215.6" width="6.3" height="6.3" fill="#2e6db7"/><rect x="107" y="215.6" width="6.3" height="6.3" fill="#2d72bc"/><rect x="113" y="215.6" width="6.3" height="6.3" fill="#2c75be"/><rect x="47" y="221.6" width="6.3" height="6.3" fill="#a81838"/><rect x="53" y="221.6" width="6.3" height="6.3" fill="#8b234f"/><rect x="59" y="221.6" width="6.3" height="6.3" fill="#69326f"/><rect x="65" y="221.6" width="6.3" height="6.3" fill="#50408d"/><rect x="71" y="221.6" width="6.3" height="6.3" fill="#3b53a2"/><rect x="77" y="221.6" width="6.3" height="6.3" fill="#3067b3"/><rect x="83" y="221.6" width="6.3" height="6.3" fill="#2d71bb"/><rect x="89" y="221.6" width="6.3" height="6.3" fill="#2b7ac2"/><rect x="95" y="221.6" width="6.3" height="6.3" fill="#2b7dc5"/><rect x="101" y="221.6" width="6.3" height="6.3" fill="#2c7fc6"/><rect x="107" y="221.6" width="6.3" height="6.3" fill="#2c80c6"/><rect x="113" y="221.6" width="6.3" height="6.3" fill="#2d81c7"/><rect x="47" y="227.6" width="6.3" height="6.3" fill="#3460ad"/><rect x="53" y="227.6" width="6.3" height="6.3" fill="#2b79c2"/><rect x="59" y="227.6" width="6.3" height="6.3" fill="#2c7fc6"/><rect x="65" y="227.6" width="6.3" height="6.3" fill="#2e82c8"/><rect x="71" y="227.6" width="6.3" height="6.3" fill="#2f84c9"/><rect x="77" y="227.6" width="6.3" height="6.3" fill="#2f85c9"/><rect x="83" y="227.6" width="6.3" height="6.3" fill="#3086ca"/><rect x="89" y="227.6" width="6.3" height="6.3" fill="#3187cb"/><rect x="95" y="227.6" width="6.3" height="6.3" fill="#3288cb"/><rect x="101" y="227.6" width="6.3" height="6.3" fill="#3289cc"/><rect x="107" y="227.6" width="6.3" height="6.3" fill="#3389cc"/><rect x="113" y="227.6" width="6.3" height="6.3" fill="#338acc"/><rect x="53" y="233.6" width="6.3" height="6.3" fill="#c1dcf1"/><rect x="59" y="233.6" width="6.3" height="6.3" fill="#97c5e8"/><rect x="65" y="233.6" width="6.3" height="6.3" fill="#81bae3"/><rect x="71" y="233.6" width="6.3" height="6.3" fill="#6baede"/><rect x="77" y="233.6" width="6.3" height="6.3" fill="#5da6db"/><rect x="83" y="233.6" width="6.3" height="6.3" fill="#56a2d9"/><rect x="89" y="233.6" width="6.3" height="6.3" fill="#519fd7"/><rect x="95" y="233.6" width="6.3" height="6.3" fill="#4c9cd6"/><rect x="101" y="233.6" width="6.3" height="6.3" fill="#499ad5"/><rect x="107" y="233.6" width="6.3" height="6.3" fill="#4699d4"/><rect x="113" y="233.6" width="6.3" height="6.3" fill="#4497d4"/><rect x="71" y="239.6" width="6.3" height="6.3" fill="#ecf4fb"/><rect x="77" y="239.6" width="6.3" height="6.3" fill="#cbe2f4"/><rect x="83" y="239.6" width="6.3" height="6.3" fill="#afd3ed"/><rect x="89" y="239.6" width="6.3" height="6.3" fill="#99c6e8"/><rect x="95" y="239.6" width="6.3" height="6.3" fill="#8dc0e6"/><rect x="101" y="239.6" width="6.3" height="6.3" fill="#82bae3"/><rect x="107" y="239.6" width="6.3" height="6.3" fill="#75b3e1"/><rect x="113" y="239.6" width="6.3" height="6.3" fill="#6baede"/><rect x="89" y="245.6" width="6.3" height="6.3" fill="#e9f3fa"/><rect x="95" y="245.6" width="6.3" height="6.3" fill="#d0e5f5"/><rect x="101" y="245.6" width="6.3" height="6.3" fill="#bad9f0"/><rect x="107" y="245.6" width="6.3" height="6.3" fill="#a7ceeb"/><rect x="113" y="245.6" width="6.3" height="6.3" fill="#98c6e8"/><rect x="101" y="251.6" width="6.3" height="6.3" fill="#f4f9fd"/><rect x="107" y="251.6" width="6.3" height="6.3" fill="#ddecf8"/><rect x="113" y="251.6" width="6.3" height="6.3" fill="#cae1f3"/><rect x="113" y="257.6" width="6.3" height="6.3" fill="#f6fafd"/><rect x="125" y="197.6" width="6.3" height="6.3" fill="#200a12"/><rect x="131" y="197.6" width="6.3" height="6.3" fill="#400b1c"/><rect x="137" y="197.6" width="6.3" height="6.3" fill="#5f0e25"/><rect x="143" y="197.6" width="6.3" height="6.3" fill="#7c122c"/><rect x="149" y="197.6" width="6.3" height="6.3" fill="#9e1735"/><rect x="155" y="197.6" width="6.3" height="6.3" fill="#9d1d41"/><rect x="161" y="197.6" width="6.3" height="6.3" fill="#802756"/><rect x="167" y="197.6" width="6.3" height="6.3" fill="#593a83"/><rect x="173" y="197.6" width="6.3" height="6.3" fill="#4c4290"/><rect x="179" y="197.6" width="6.3" height="6.3" fill="#3068b3"/><rect x="185" y="197.6" width="6.3" height="6.3" fill="#2b7ec5"/><rect x="191" y="197.6" width="6.3" height="6.3" fill="#2e83c8"/><rect x="125" y="203.6" width="6.3" height="6.3" fill="#310a17"/><rect x="131" y="203.6" width="6.3" height="6.3" fill="#5a0d23"/><rect x="137" y="203.6" width="6.3" height="6.3" fill="#74102a"/><rect x="143" y="203.6" width="6.3" height="6.3" fill="#951533"/><rect x="149" y="203.6" width="6.3" height="6.3" fill="#a11b3e"/><rect x="155" y="203.6" width="6.3" height="6.3" fill="#8d234d"/><rect x="161" y="203.6" width="6.3" height="6.3" fill="#69326f"/><rect x="167" y="203.6" width="6.3" height="6.3" fill="#4e418e"/><rect x="173" y="203.6" width="6.3" height="6.3" fill="#3957a5"/><rect x="179" y="203.6" width="6.3" height="6.3" fill="#2b7ac2"/><rect x="185" y="203.6" width="6.3" height="6.3" fill="#2e82c8"/><rect x="191" y="203.6" width="6.3" height="6.3" fill="#3086ca"/><rect x="125" y="209.6" width="6.3" height="6.3" fill="#530c21"/><rect x="131" y="209.6" width="6.3" height="6.3" fill="#76112a"/><rect x="137" y="209.6" width="6.3" height="6.3" fill="#931532"/><rect x="143" y="209.6" width="6.3" height="6.3" fill="#a61939"/><rect x="149" y="209.6" width="6.3" height="6.3" fill="#8d234d"/><rect x="155" y="209.6" width="6.3" height="6.3" fill="#782a5c"/><rect x="161" y="209.6" width="6.3" height="6.3" fill="#533e8a"/><rect x="167" y="209.6" width="6.3" height="6.3" fill="#3956a4"/><rect x="173" y="209.6" width="6.3" height="6.3" fill="#2c75be"/><rect x="179" y="209.6" width="6.3" height="6.3" fill="#2d82c7"/><rect x="185" y="209.6" width="6.3" height="6.3" fill="#3187cb"/><rect x="191" y="209.6" width="6.3" height="6.3" fill="#348acd"/><rect x="125" y="215.6" width="6.3" height="6.3" fill="#78112b"/><rect x="131" y="215.6" width="6.3" height="6.3" fill="#991634"/><rect x="137" y="215.6" width="6.3" height="6.3" fill="#a61939"/><rect x="143" y="215.6" width="6.3" height="6.3" fill="#8c234e"/><rect x="149" y="215.6" width="6.3" height="6.3" fill="#69326e"/><rect x="155" y="215.6" width="6.3" height="6.3" fill="#523e8a"/><rect x="161" y="215.6" width="6.3" height="6.3" fill="#3a55a3"/><rect x="167" y="215.6" width="6.3" height="6.3" fill="#2b78c1"/><rect x="173" y="215.6" width="6.3" height="6.3" fill="#2e83c8"/><rect x="179" y="215.6" width="6.3" height="6.3" fill="#3289cc"/><rect x="185" y="215.6" width="6.3" height="6.3" fill="#358dce"/><rect x="191" y="215.6" width="6.3" height="6.3" fill="#378fcf"/><rect x="125" y="221.6" width="6.3" height="6.3" fill="#a31737"/><rect x="131" y="221.6" width="6.3" height="6.3" fill="#9a1e44"/><rect x="137" y="221.6" width="6.3" height="6.3" fill="#722d63"/><rect x="143" y="221.6" width="6.3" height="6.3" fill="#513f8b"/><rect x="149" y="221.6" width="6.3" height="6.3" fill="#3b52a1"/><rect x="155" y="221.6" width="6.3" height="6.3" fill="#3067b3"/><rect x="161" y="221.6" width="6.3" height="6.3" fill="#2b7ec5"/><rect x="167" y="221.6" width="6.3" height="6.3" fill="#338acc"/><rect x="173" y="221.6" width="6.3" height="6.3" fill="#378fcf"/><rect x="179" y="221.6" width="6.3" height="6.3" fill="#3e94d2"/><rect x="185" y="221.6" width="6.3" height="6.3" fill="#4598d4"/><rect x="191" y="221.6" width="6.3" height="6.3" fill="#4b9bd6"/><rect x="125" y="227.6" width="6.3" height="6.3" fill="#3d509f"/><rect x="131" y="227.6" width="6.3" height="6.3" fill="#2e6fb9"/><rect x="137" y="227.6" width="6.3" height="6.3" fill="#2b7dc5"/><rect x="143" y="227.6" width="6.3" height="6.3" fill="#3086ca"/><rect x="149" y="227.6" width="6.3" height="6.3" fill="#3b92d1"/><rect x="155" y="227.6" width="6.3" height="6.3" fill="#4799d4"/><rect x="161" y="227.6" width="6.3" height="6.3" fill="#519fd8"/><rect x="167" y="227.6" width="6.3" height="6.3" fill="#5aa4da"/><rect x="173" y="227.6" width="6.3" height="6.3" fill="#60a8dc"/><rect x="179" y="227.6" width="6.3" height="6.3" fill="#65abdd"/><rect x="185" y="227.6" width="6.3" height="6.3" fill="#68acde"/><rect x="191" y="227.6" width="6.3" height="6.3" fill="#6aaede"/><rect x="125" y="233.6" width="6.3" height="6.3" fill="#fbfdfe"/><rect x="131" y="233.6" width="6.3" height="6.3" fill="#e9f3fa"/><rect x="137" y="233.6" width="6.3" height="6.3" fill="#daeaf7"/><rect x="143" y="233.6" width="6.3" height="6.3" fill="#c9e1f3"/><rect x="149" y="233.6" width="6.3" height="6.3" fill="#b9d8ef"/><rect x="155" y="233.6" width="6.3" height="6.3" fill="#aed2ed"/><rect x="161" y="233.6" width="6.3" height="6.3" fill="#a6ceeb"/><rect x="167" y="233.6" width="6.3" height="6.3" fill="#9fcaea"/><rect x="173" y="233.6" width="6.3" height="6.3" fill="#9bc7e9"/><rect x="179" y="233.6" width="6.3" height="6.3" fill="#97c5e8"/><rect x="185" y="233.6" width="6.3" height="6.3" fill="#93c3e7"/><rect x="191" y="233.6" width="6.3" height="6.3" fill="#90c2e6"/><rect x="161" y="239.6" width="6.3" height="6.3" fill="#fcfdfe"/><rect x="167" y="239.6" width="6.3" height="6.3" fill="#e8f2fa"/><rect x="173" y="239.6" width="6.3" height="6.3" fill="#d9e9f7"/><rect x="179" y="239.6" width="6.3" height="6.3" fill="#cbe2f4"/><rect x="185" y="239.6" width="6.3" height="6.3" fill="#bfdbf1"/><rect x="191" y="239.6" width="6.3" height="6.3" fill="#b6d6ef"/><rect x="179" y="245.6" width="6.3" height="6.3" fill="#f9fcfe"/><rect x="185" y="245.6" width="6.3" height="6.3" fill="#eaf3fa"/><rect x="191" y="245.6" width="6.3" height="6.3" fill="#dcebf7"/><rect x="191" y="251.6" width="6.3" height="6.3" fill="#fdfeff"/><rect x="203" y="197.6" width="6.3" height="6.3" fill="#200a12"/><rect x="209" y="197.6" width="6.3" height="6.3" fill="#400b1c"/><rect x="215" y="197.6" width="6.3" height="6.3" fill="#5f0e25"/><rect x="221" y="197.6" width="6.3" height="6.3" fill="#7c122c"/><rect x="227" y="197.6" width="6.3" height="6.3" fill="#9e1735"/><rect x="233" y="197.6" width="6.3" height="6.3" fill="#9d1d41"/><rect x="239" y="197.6" width="6.3" height="6.3" fill="#802756"/><rect x="245" y="197.6" width="6.3" height="6.3" fill="#593a83"/><rect x="251" y="197.6" width="6.3" height="6.3" fill="#4c4290"/><rect x="257" y="197.6" width="6.3" height="6.3" fill="#3068b3"/><rect x="263" y="197.6" width="6.3" height="6.3" fill="#2b7ec5"/><rect x="269" y="197.6" width="6.3" height="6.3" fill="#2e83c8"/><rect x="203" y="203.6" width="6.3" height="6.3" fill="#310a17"/><rect x="209" y="203.6" width="6.3" height="6.3" fill="#5a0d23"/><rect x="215" y="203.6" width="6.3" height="6.3" fill="#74102a"/><rect x="221" y="203.6" width="6.3" height="6.3" fill="#951533"/><rect x="227" y="203.6" width="6.3" height="6.3" fill="#a11b3e"/><rect x="233" y="203.6" width="6.3" height="6.3" fill="#8d234d"/><rect x="239" y="203.6" width="6.3" height="6.3" fill="#69326f"/><rect x="245" y="203.6" width="6.3" height="6.3" fill="#4e418e"/><rect x="251" y="203.6" width="6.3" height="6.3" fill="#3957a5"/><rect x="257" y="203.6" width="6.3" height="6.3" fill="#2b7ac2"/><rect x="263" y="203.6" width="6.3" height="6.3" fill="#2e82c8"/><rect x="269" y="203.6" width="6.3" height="6.3" fill="#3086ca"/><rect x="203" y="209.6" width="6.3" height="6.3" fill="#530c21"/><rect x="209" y="209.6" width="6.3" height="6.3" fill="#76112a"/><rect x="215" y="209.6" width="6.3" height="6.3" fill="#931532"/><rect x="221" y="209.6" width="6.3" height="6.3" fill="#a61939"/><rect x="227" y="209.6" width="6.3" height="6.3" fill="#8d234d"/><rect x="233" y="209.6" width="6.3" height="6.3" fill="#782a5c"/><rect x="239" y="209.6" width="6.3" height="6.3" fill="#533e8a"/><rect x="245" y="209.6" width="6.3" height="6.3" fill="#3956a4"/><rect x="251" y="209.6" width="6.3" height="6.3" fill="#2c75be"/><rect x="257" y="209.6" width="6.3" height="6.3" fill="#2d82c7"/><rect x="263" y="209.6" width="6.3" height="6.3" fill="#3187cb"/><rect x="269" y="209.6" width="6.3" height="6.3" fill="#348acd"/><rect x="203" y="215.6" width="6.3" height="6.3" fill="#78112b"/><rect x="209" y="215.6" width="6.3" height="6.3" fill="#991634"/><rect x="215" y="215.6" width="6.3" height="6.3" fill="#a61939"/><rect x="221" y="215.6" width="6.3" height="6.3" fill="#8c234e"/><rect x="227" y="215.6" width="6.3" height="6.3" fill="#69326e"/><rect x="233" y="215.6" width="6.3" height="6.3" fill="#523e8a"/><rect x="239" y="215.6" width="6.3" height="6.3" fill="#3a55a3"/><rect x="245" y="215.6" width="6.3" height="6.3" fill="#2b78c1"/><rect x="251" y="215.6" width="6.3" height="6.3" fill="#2e83c8"/><rect x="257" y="215.6" width="6.3" height="6.3" fill="#3289cc"/><rect x="263" y="215.6" width="6.3" height="6.3" fill="#358dce"/><rect x="269" y="215.6" width="6.3" height="6.3" fill="#378fcf"/><rect x="203" y="221.6" width="6.3" height="6.3" fill="#a31737"/><rect x="209" y="221.6" width="6.3" height="6.3" fill="#9a1e44"/><rect x="215" y="221.6" width="6.3" height="6.3" fill="#722d63"/><rect x="221" y="221.6" width="6.3" height="6.3" fill="#513f8b"/><rect x="227" y="221.6" width="6.3" height="6.3" fill="#3b52a1"/><rect x="233" y="221.6" width="6.3" height="6.3" fill="#3067b3"/><rect x="239" y="221.6" width="6.3" height="6.3" fill="#2b7ec5"/><rect x="245" y="221.6" width="6.3" height="6.3" fill="#338acc"/><rect x="251" y="221.6" width="6.3" height="6.3" fill="#378fcf"/><rect x="257" y="221.6" width="6.3" height="6.3" fill="#3f94d2"/><rect x="263" y="221.6" width="6.3" height="6.3" fill="#4799d5"/><rect x="269" y="221.6" width="6.3" height="6.3" fill="#4e9dd7"/><rect x="203" y="227.6" width="6.3" height="6.3" fill="#3d509f"/><rect x="209" y="227.6" width="6.3" height="6.3" fill="#2e6fb9"/><rect x="215" y="227.6" width="6.3" height="6.3" fill="#2b7dc5"/><rect x="221" y="227.6" width="6.3" height="6.3" fill="#3086ca"/><rect x="227" y="227.6" width="6.3" height="6.3" fill="#3b92d1"/><rect x="233" y="227.6" width="6.3" height="6.3" fill="#4a9bd6"/><rect x="239" y="227.6" width="6.3" height="6.3" fill="#57a3d9"/><rect x="245" y="227.6" width="6.3" height="6.3" fill="#61a8dc"/><rect x="251" y="227.6" width="6.3" height="6.3" fill="#6baede"/><rect x="257" y="227.6" width="6.3" height="6.3" fill="#71b1e0"/><rect x="263" y="227.6" width="6.3" height="6.3" fill="#74b3e0"/><rect x="269" y="227.6" width="6.3" height="6.3" fill="#76b4e1"/><rect x="221" y="233.6" width="6.3" height="6.3" fill="#f4f9fd"/><rect x="227" y="233.6" width="6.3" height="6.3" fill="#ddecf8"/><rect x="233" y="233.6" width="6.3" height="6.3" fill="#cee4f4"/><rect x="239" y="233.6" width="6.3" height="6.3" fill="#c2ddf1"/><rect x="245" y="233.6" width="6.3" height="6.3" fill="#b7d7ef"/><rect x="251" y="233.6" width="6.3" height="6.3" fill="#b0d3ee"/><rect x="257" y="233.6" width="6.3" height="6.3" fill="#aad0ec"/><rect x="263" y="233.6" width="6.3" height="6.3" fill="#a3cceb"/><rect x="269" y="233.6" width="6.3" height="6.3" fill="#9fcaea"/><rect x="251" y="239.6" width="6.3" height="6.3" fill="#f5f9fd"/><rect x="257" y="239.6" width="6.3" height="6.3" fill="#e6f1fa"/><rect x="263" y="239.6" width="6.3" height="6.3" fill="#d7e9f6"/><rect x="269" y="239.6" width="6.3" height="6.3" fill="#cde3f4"/><rect x="269" y="245.6" width="6.3" height="6.3" fill="#f5f9fd"/><rect x="277" y="25" width="4" height="77" fill="url(#cbg)"/><rect x="277" y="111.2" width="4" height="77" fill="url(#cbg)"/><rect x="277" y="197.6" width="4" height="77" fill="url(#cbg)"/></svg>
<canvas id="c" width="313" height="313"></canvas>
<svg width="313" height="313" viewBox="0 0 313 313">
<text x="83.3" y="16.2" font-size="7.8" text-anchor="middle">Tx: w<tspan font-size="5.5" dy="2.1">0</tspan><tspan dy="-2.1"> = 0.85 mm</tspan></text>
<text x="161.3" y="16.2" font-size="7.8" text-anchor="middle">Tx: w<tspan font-size="5.5" dy="2.1">0</tspan><tspan dy="-2.1"> = 0.92 mm</tspan></text>
<text x="239.3" y="16.2" font-size="7.8" text-anchor="middle">Tx: w<tspan font-size="5.5" dy="2.1">0</tspan><tspan dy="-2.1"> = 1 mm</tspan></text>
<text transform="translate(17.9,64.8) rotate(-90)" font-size="7.8" text-anchor="middle">Tx: z<tspan font-size="5.5" dy="2.1">0</tspan><tspan dy="-2.1"> = &#8722;148 mm</tspan></text>
<text transform="translate(25.8,68.0) rotate(-90)" font-size="7.8" text-anchor="middle">Rx: z<tspan font-size="5.5" dy="2.1">0</tspan><tspan dy="-2.1"> (m)</tspan></text>
<text x="41.6" y="27.6" font-size="7.2" text-anchor="end">2</text>
<text x="41.6" y="46.1" font-size="7.2" text-anchor="end">1</text>
<text x="41.6" y="64.6" font-size="7.2" text-anchor="end">0</text>
<text x="41.6" y="83.1" font-size="7.2" text-anchor="end">&#8722;1</text>
<text x="41.6" y="101.6" font-size="7.2" text-anchor="end">&#8722;2</text>
<text transform="translate(17.9,151.0) rotate(-90)" font-size="7.8" text-anchor="middle">Tx: z<tspan font-size="5.5" dy="2.1">0</tspan><tspan dy="-2.1"> = &#8722;238 mm</tspan></text>
<text transform="translate(25.8,154.2) rotate(-90)" font-size="7.8" text-anchor="middle">Rx: z<tspan font-size="5.5" dy="2.1">0</tspan><tspan dy="-2.1"> (m)</tspan></text>
<text x="41.6" y="113.8" font-size="7.2" text-anchor="end">2</text>
<text x="41.6" y="132.29999999999998" font-size="7.2" text-anchor="end">1</text>
<text x="41.6" y="150.79999999999998" font-size="7.2" text-anchor="end">0</text>
<text x="41.6" y="169.29999999999998" font-size="7.2" text-anchor="end">&#8722;1</text>
<text x="41.6" y="187.79999999999998" font-size="7.2" text-anchor="end">&#8722;2</text>
<text transform="translate(17.9,237.4) rotate(-90)" font-size="7.8" text-anchor="middle">Tx: z<tspan font-size="5.5" dy="2.1">0</tspan><tspan dy="-2.1"> = &#8722;328 mm</tspan></text>
<text transform="translate(25.8,240.6) rotate(-90)" font-size="7.8" text-anchor="middle">Rx: z<tspan font-size="5.5" dy="2.1">0</tspan><tspan dy="-2.1"> (m)</tspan></text>
<text x="41.6" y="200.2" font-size="7.2" text-anchor="end">2</text>
<text x="41.6" y="218.7" font-size="7.2" text-anchor="end">1</text>
<text x="41.6" y="237.2" font-size="7.2" text-anchor="end">0</text>
<text x="41.6" y="255.7" font-size="7.2" text-anchor="end">&#8722;1</text>
<text x="41.6" y="274.20000000000005" font-size="7.2" text-anchor="end">&#8722;2</text>
<g stroke="#000" stroke-width="1" stroke-dasharray="2.2,0.8" opacity="0.22"><line x1="65.40000000000002" y1="25" x2="65.40000000000002" y2="102"/><line x1="83.40000000000002" y1="25" x2="83.40000000000002" y2="102"/><line x1="101.4" y1="25" x2="101.4" y2="102"/><line x1="47" y1="44.3" x2="119" y2="44.3"/><line x1="47" y1="62.8" x2="119" y2="62.8"/><line x1="47" y1="81.3" x2="119" y2="81.3"/><line x1="47" y1="99.8" x2="119" y2="99.8"/></g>
<rect x="47.4" y="25.2" width="71.6" height="76.8" fill="none" stroke="#000" stroke-width="0.9" opacity="0.4"/>
<g stroke="#e818e8" stroke-width="1.8"><line x1="88.04000000000002" y1="32.769999999999996" x2="109.82" y2="32.769999999999996"/><line x1="99.2" y1="29.07" x2="99.2" y2="37.58"/></g>
<g stroke="#18a018" stroke-width="1.0"><line x1="58.34000000000001" y1="94.5" x2="79.04" y2="94.5"/><line x1="68.5" y1="90.12" x2="68.5" y2="99.55499999999999"/></g>
<g fill="#18a018"><circle cx="68.5" cy="90.12" r="0.8"/><circle cx="68.5" cy="99.55499999999999" r="0.8"/><circle cx="68.5" cy="94.5" r="0.9"/></g>
<g stroke="#000" stroke-width="1" stroke-dasharray="2.2,0.8" opacity="0.22"><line x1="143.4" y1="25" x2="143.4" y2="102"/><line x1="161.4" y1="25" x2="161.4" y2="102"/><line x1="179.4" y1="25" x2="179.4" y2="102"/><line x1="125" y1="44.3" x2="197" y2="44.3"/><line x1="125" y1="62.8" x2="197" y2="62.8"/><line x1="125" y1="81.3" x2="197" y2="81.3"/><line x1="125" y1="99.8" x2="197" y2="99.8"/></g>
<rect x="125.4" y="25.2" width="71.6" height="76.8" fill="none" stroke="#000" stroke-width="0.9" opacity="0.4"/>
<g stroke="#e818e8" stroke-width="1.8"><line x1="166.04000000000002" y1="32.769999999999996" x2="187.82" y2="32.769999999999996"/><line x1="177.2" y1="29.07" x2="177.2" y2="37.58"/></g>
<g stroke="#18a018" stroke-width="1.0"><line x1="136.34" y1="94.5" x2="157.04000000000002" y2="94.5"/><line x1="146.5" y1="90.12" x2="146.5" y2="99.55499999999999"/></g>
<g fill="#18a018"><circle cx="146.5" cy="90.12" r="0.8"/><circle cx="146.5" cy="99.55499999999999" r="0.8"/><circle cx="146.5" cy="94.5" r="0.9"/></g>
<g stroke="#000" stroke-width="1" stroke-dasharray="2.2,0.8" opacity="0.22"><line x1="221.4" y1="25" x2="221.4" y2="102"/><line x1="239.4" y1="25" x2="239.4" y2="102"/><line x1="257.4" y1="25" x2="257.4" y2="102"/><line x1="203" y1="44.3" x2="275" y2="44.3"/><line x1="203" y1="62.8" x2="275" y2="62.8"/><line x1="203" y1="81.3" x2="275" y2="81.3"/><line x1="203" y1="99.8" x2="275" y2="99.8"/></g>
<rect x="203.4" y="25.2" width="71.6" height="76.8" fill="none" stroke="#000" stroke-width="0.9" opacity="0.4"/>
<g stroke="#e818e8" stroke-width="1.8"><line x1="244.04000000000002" y1="32.769999999999996" x2="265.82" y2="32.769999999999996"/><line x1="255.2" y1="29.07" x2="255.2" y2="37.58"/></g>
<g stroke="#18a018" stroke-width="1.0"><line x1="214.34" y1="94.5" x2="235.04000000000002" y2="94.5"/><line x1="224.5" y1="90.12" x2="224.5" y2="99.55499999999999"/></g>
<g fill="#18a018"><circle cx="224.5" cy="90.12" r="0.8"/><circle cx="224.5" cy="99.55499999999999" r="0.8"/><circle cx="224.5" cy="94.5" r="0.9"/></g>
<rect x="276.5" y="25.2" width="4.5" height="76.8" fill="none" stroke="#000" stroke-width="0.5" opacity="0.3"/>
<text x="288.2" y="101.1" font-size="7.2">0</text>
<text x="288.2" y="82.8" font-size="7.2">5</text>
<text x="288.2" y="64.5" font-size="7.2">10</text>
<text x="288.2" y="46.199999999999996" font-size="7.2">15</text>
<text x="288.2" y="27.900000000000002" font-size="7.2">20</text>
<text transform="translate(308.6,63.8) rotate(-90)" font-size="7.6" text-anchor="middle">QPD pos (mm)</text>
<g stroke="#000" stroke-width="1" stroke-dasharray="2.2,0.8" opacity="0.22"><line x1="65.40000000000002" y1="111.2" x2="65.40000000000002" y2="188.2"/><line x1="83.40000000000002" y1="111.2" x2="83.40000000000002" y2="188.2"/><line x1="101.4" y1="111.2" x2="101.4" y2="188.2"/><line x1="47" y1="130.5" x2="119" y2="130.5"/><line x1="47" y1="149.0" x2="119" y2="149.0"/><line x1="47" y1="167.5" x2="119" y2="167.5"/><line x1="47" y1="186.0" x2="119" y2="186.0"/></g>
<rect x="47.4" y="111.4" width="71.6" height="76.8" fill="none" stroke="#000" stroke-width="0.9" opacity="0.4"/>
<g stroke="#e818e8" stroke-width="1.8"><line x1="88.04000000000002" y1="118.97" x2="109.82" y2="118.97"/><line x1="99.2" y1="115.27" x2="99.2" y2="123.78"/></g>
<g stroke="#18a018" stroke-width="1.0"><line x1="58.34000000000001" y1="181.0" x2="79.04" y2="181.0"/><line x1="68.5" y1="176.32" x2="68.5" y2="185.755"/></g>
<g fill="#18a018"><circle cx="68.5" cy="176.32" r="0.8"/><circle cx="68.5" cy="185.755" r="0.8"/><circle cx="68.5" cy="181.0" r="0.9"/></g>
<g stroke="#000" stroke-width="1" stroke-dasharray="2.2,0.8" opacity="0.22"><line x1="143.4" y1="111.2" x2="143.4" y2="188.2"/><line x1="161.4" y1="111.2" x2="161.4" y2="188.2"/><line x1="179.4" y1="111.2" x2="179.4" y2="188.2"/><line x1="125" y1="130.5" x2="197" y2="130.5"/><line x1="125" y1="149.0" x2="197" y2="149.0"/><line x1="125" y1="167.5" x2="197" y2="167.5"/><line x1="125" y1="186.0" x2="197" y2="186.0"/></g>
<rect x="125.4" y="111.4" width="71.6" height="76.8" fill="none" stroke="#000" stroke-width="0.9" opacity="0.4"/>
<g stroke="#e818e8" stroke-width="1.8"><line x1="166.04000000000002" y1="118.97" x2="187.82" y2="118.97"/><line x1="177.2" y1="115.27" x2="177.2" y2="123.78"/></g>
<g stroke="#18a018" stroke-width="1.0"><line x1="136.34" y1="181.0" x2="157.04000000000002" y2="181.0"/><line x1="146.5" y1="176.32" x2="146.5" y2="185.755"/></g>
<g fill="#18a018"><circle cx="146.5" cy="176.32" r="0.8"/><circle cx="146.5" cy="185.755" r="0.8"/><circle cx="146.5" cy="181.0" r="0.9"/></g>
<g stroke="#000" stroke-width="1" stroke-dasharray="2.2,0.8" opacity="0.22"><line x1="221.4" y1="111.2" x2="221.4" y2="188.2"/><line x1="239.4" y1="111.2" x2="239.4" y2="188.2"/><line x1="257.4" y1="111.2" x2="257.4" y2="188.2"/><line x1="203" y1="130.5" x2="275" y2="130.5"/><line x1="203" y1="149.0" x2="275" y2="149.0"/><line x1="203" y1="167.5" x2="275" y2="167.5"/><line x1="203" y1="186.0" x2="275" y2="186.0"/></g>
<rect x="203.4" y="111.4" width="71.6" height="76.8" fill="none" stroke="#000" stroke-width="0.9" opacity="0.4"/>
<g stroke="#e818e8" stroke-width="1.8"><line x1="244.04000000000002" y1="118.97" x2="265.82" y2="118.97"/><line x1="255.2" y1="115.27" x2="255.2" y2="123.78"/></g>
<g stroke="#18a018" stroke-width="1.0"><line x1="214.34" y1="181.0" x2="235.04000000000002" y2="181.0"/><line x1="224.5" y1="176.32" x2="224.5" y2="185.755"/></g>
<g fill="#18a018"><circle cx="224.5" cy="176.32" r="0.8"/><circle cx="224.5" cy="185.755" r="0.8"/><circle cx="224.5" cy="181.0" r="0.9"/></g>
<rect x="276.5" y="111.4" width="4.5" height="76.8" fill="none" stroke="#000" stroke-width="0.5" opacity="0.3"/>
<text x="288.2" y="187.3" font-size="7.2">0</text>
<text x="288.2" y="169.00000000000003" font-size="7.2">5</text>
<text x="288.2" y="150.70000000000002" font-size="7.2">10</text>
<text x="288.2" y="132.4" font-size="7.2">15</text>
<text x="288.2" y="114.1" font-size="7.2">20</text>
<text transform="translate(308.6,150.0) rotate(-90)" font-size="7.6" text-anchor="middle">QPD pos (mm)</text>
<g stroke="#000" stroke-width="1" stroke-dasharray="2.2,0.8" opacity="0.22"><line x1="65.40000000000002" y1="197.6" x2="65.40000000000002" y2="274.6"/><line x1="83.40000000000002" y1="197.6" x2="83.40000000000002" y2="274.6"/><line x1="101.4" y1="197.6" x2="101.4" y2="274.6"/><line x1="47" y1="216.9" x2="119" y2="216.9"/><line x1="47" y1="235.4" x2="119" y2="235.4"/><line x1="47" y1="253.9" x2="119" y2="253.9"/><line x1="47" y1="272.40000000000003" x2="119" y2="272.40000000000003"/></g>
<rect x="47.4" y="197.79999999999998" width="71.6" height="76.8" fill="none" stroke="#000" stroke-width="0.9" opacity="0.4"/>
<g stroke="#e818e8" stroke-width="1.8"><line x1="88.04000000000002" y1="205.37" x2="109.82" y2="205.37"/><line x1="99.2" y1="201.67" x2="99.2" y2="210.18"/></g>
<g stroke="#18a018" stroke-width="1.0"><line x1="58.34000000000001" y1="267.3" x2="79.04" y2="267.3"/><line x1="68.5" y1="262.72" x2="68.5" y2="272.155"/></g>
<g fill="#18a018"><circle cx="68.5" cy="262.72" r="0.8"/><circle cx="68.5" cy="272.155" r="0.8"/><circle cx="68.5" cy="267.3" r="0.9"/></g>
<g stroke="#000" stroke-width="1" stroke-dasharray="2.2,0.8" opacity="0.22"><line x1="143.4" y1="197.6" x2="143.4" y2="274.6"/><line x1="161.4" y1="197.6" x2="161.4" y2="274.6"/><line x1="179.4" y1="197.6" x2="179.4" y2="274.6"/><line x1="125" y1="216.9" x2="197" y2="216.9"/><line x1="125" y1="235.4" x2="197" y2="235.4"/><line x1="125" y1="253.9" x2="197" y2="253.9"/><line x1="125" y1="272.40000000000003" x2="197" y2="272.40000000000003"/></g>
<rect x="125.4" y="197.79999999999998" width="71.6" height="76.8" fill="none" stroke="#000" stroke-width="0.9" opacity="0.4"/>
<g stroke="#e818e8" stroke-width="1.8"><line x1="166.04000000000002" y1="205.37" x2="187.82" y2="205.37"/><line x1="177.2" y1="201.67" x2="177.2" y2="210.18"/></g>
<g stroke="#18a018" stroke-width="1.0"><line x1="136.34" y1="267.3" x2="157.04000000000002" y2="267.3"/><line x1="146.5" y1="262.72" x2="146.5" y2="272.155"/></g>
<g fill="#18a018"><circle cx="146.5" cy="262.72" r="0.8"/><circle cx="146.5" cy="272.155" r="0.8"/><circle cx="146.5" cy="267.3" r="0.9"/></g>
<g stroke="#000" stroke-width="1" stroke-dasharray="2.2,0.8" opacity="0.22"><line x1="221.4" y1="197.6" x2="221.4" y2="274.6"/><line x1="239.4" y1="197.6" x2="239.4" y2="274.6"/><line x1="257.4" y1="197.6" x2="257.4" y2="274.6"/><line x1="203" y1="216.9" x2="275" y2="216.9"/><line x1="203" y1="235.4" x2="275" y2="235.4"/><line x1="203" y1="253.9" x2="275" y2="253.9"/><line x1="203" y1="272.40000000000003" x2="275" y2="272.40000000000003"/></g>
<rect x="203.4" y="197.79999999999998" width="71.6" height="76.8" fill="none" stroke="#000" stroke-width="0.9" opacity="0.4"/>
<g stroke="#e818e8" stroke-width="1.8"><line x1="244.04000000000002" y1="205.37" x2="265.82" y2="205.37"/><line x1="255.2" y1="201.67" x2="255.2" y2="210.18"/></g>
<g stroke="#18a018" stroke-width="1.0"><line x1="214.34" y1="267.3" x2="235.04000000000002" y2="267.3"/><line x1="224.5" y1="262.72" x2="224.5" y2="272.155"/></g>
<g fill="#18a018"><circle cx="224.5" cy="262.72" r="0.8"/><circle cx="224.5" cy="272.155" r="0.8"/><circle cx="224.5" cy="267.3" r="0.9"/></g>
<rect x="276.5" y="197.79999999999998" width="4.5" height="76.8" fill="none" stroke="#000" stroke-width="0.5" opacity="0.3"/>
<text x="288.2" y="273.70000000000005" font-size="7.2">0</text>
<text x="288.2" y="255.4" font-size="7.2">5</text>
<text x="288.2" y="237.1" font-size="7.2">10</text>
<text x="288.2" y="218.8" font-size="7.2">15</text>
<text x="288.2" y="200.5" font-size="7.2">20</text>
<text transform="translate(308.6,236.4) rotate(-90)" font-size="7.6" text-anchor="middle">QPD pos (mm)</text>
<rect x="51.5" y="52.3" width="47" height="23" fill="#fff" stroke="#000" stroke-width="0.8" opacity="1" stroke-opacity="0.4"/>
<text x="54.1" y="62.7" font-size="7.2">MBF</text><text x="54.1" y="69.7" font-size="7.2">GMF</text>
<g stroke-width="1.1"><line x1="74" y1="60" x2="95" y2="60" stroke="#18a018"/><line x1="74" y1="67.3" x2="95" y2="67.3" stroke="#e818e8"/></g>
<g fill="#18a018"><circle cx="74.3" cy="60" r="0.8"/><circle cx="84.4" cy="60" r="0.9"/><circle cx="94.7" cy="60" r="0.8"/></g><g fill="#e818e8"><circle cx="74.3" cy="67.3" r="0.8"/><circle cx="84.4" cy="67.3" r="0.9"/><circle cx="94.7" cy="67.3" r="0.8"/></g>
<text x="47.3" y="289.5" font-size="7.2" text-anchor="middle">0.7</text>
<text x="65.3" y="289.5" font-size="7.2" text-anchor="middle">0.8</text>
<text x="83.3" y="289.5" font-size="7.2" text-anchor="middle">0.9</text>
<text x="101.3" y="289.5" font-size="7.2" text-anchor="middle">1.0</text>
<text x="83.4" y="299" font-size="7.6" text-anchor="middle">Rx: w<tspan font-size="5.5" dy="2.1">0</tspan><tspan dy="-2.1"> (mm)</tspan></text>
<text x="125.3" y="289.5" font-size="7.2" text-anchor="middle">0.7</text>
<text x="143.3" y="289.5" font-size="7.2" text-anchor="middle">0.8</text>
<text x="161.3" y="289.5" font-size="7.2" text-anchor="middle">0.9</text>
<text x="179.3" y="289.5" font-size="7.2" text-anchor="middle">1.0</text>
<text x="161.4" y="299" font-size="7.6" text-anchor="middle">Rx: w<tspan font-size="5.5" dy="2.1">0</tspan><tspan dy="-2.1"> (mm)</tspan></text>
<text x="203.3" y="289.5" font-size="7.2" text-anchor="middle">0.7</text>
<text x="221.3" y="289.5" font-size="7.2" text-anchor="middle">0.8</text>
<text x="239.3" y="289.5" font-size="7.2" text-anchor="middle">0.9</text>
<text x="257.3" y="289.5" font-size="7.2" text-anchor="middle">1.0</text>
<text x="275.3" y="289.5" font-size="7.2" text-anchor="middle">1.1</text>
<text x="239.4" y="299" font-size="7.6" text-anchor="middle">Rx: w<tspan font-size="5.5" dy="2.1">0</tspan><tspan dy="-2.1"> (mm)</tspan></text>
</svg>
<script>
(function(){
var cv=document.getElementById('c'),ctx=cv.getContext('2d');
var img=ctx.createImageData(313,313),d=img.data;
for(var i=0;i<d.length;i+=4){d[i]=255;d[i+1]=255;d[i+2]=255;d[i+3]=255;}
function prep(C){return C.map(function(p){var h=p[1];return [p[0],parseInt(h.substr(0,2),16),parseInt(h.substr(2,2),16),parseInt(h.substr(4,2),16)];});}
var CMH=prep([[-1, "ffffff"], [0, "e8f2fa"], [0.7, "c4def2"], [1.5, "98c6e8"], [2.9, "60a8dc"], [4.5, "3890d0"], [5.5, "3086ca"], [6.7, "2a7cc4"], [8, "3066b2"], [9.0, "3f4c9c"], [10.0, "553c88"], [11.0, "782a5c"], [12.0, "9a1e44"], [13.0, "a81838"], [14.5, "8c1430"], [16, "640e26"], [17.5, "3a0a1a"], [19, "1a0a10"], [20, "111111"]]), CMB=prep([[-1, "ffffff"], [0, "e8f2fa"], [0.7, "c4def2"], [1.5, "95c3e6"], [2.9, "58a2d9"], [4.5, "2f88cc"], [5.5, "2a7ec6"], [6.7, "2575c2"], [8, "2e62b0"], [9.0, "3f4c9c"], [10.0, "603a80"], [11.0, "8a2a5e"], [12.0, "a81e48"], [13.0, "b01a40"], [14.5, "9a1636"], [16, "7a0f2c"], [17.5, "4a0b20"], [19, "1e0a12"], [20, "111111"]]), CM=CMH;
function cmap(v){
 if(v<=CM[0][0])return CM[0].slice(1);
 for(var k=1;k<CM.length;k++){ if(v<=CM[k][0]){var a=CM[k-1],b=CM[k],t=(v-a[0])/(b[0]-a[0]);return [a[1]+(b[1]-a[1])*t,a[2]+(b[2]-a[2])*t,a[3]+(b[3]-a[3])*t];}}
 return CM[CM.length-1].slice(1);
}
var LV=[-1, 0, 2, 4.5, 7, 9.5, 11, 12.5, 15.5, 18.2, 20];
var PAN=[[[-0.238, -0.381, -0.528, -0.683, -0.832], [-0.197, -0.311, -0.42, -0.522, -0.619], [-0.044, -0.058, -0.024, 0.067, 0.162], [0.08, 0.15, 0.3, 0.55, 0.8], [0.14, 0.25, 0.45, 1.3, 3.0], [0.255, 0.52, 1.09, 2.475, 4.2], [0.35, 0.79, 1.925, 4.15, 5.2], [0.46, 1.188, 2.65, 4.375, 5.5], [0.988, 2.075, 3.625, 5.35, 6.7], [1.725, 3.45, 5.275, 7.2, 8.7], [2.6, 4.275, 6.2, 8.2, 9.7]], [[-0.047, -0.074, -0.16, -0.307, -0.5], [-0.03, -0.045, -0.1, -0.195, -0.33], [0.03, 0.062, 0.12, 0.215, 0.291], [0.08, 0.15, 0.3, 0.55, 0.8], [0.14, 0.25, 0.45, 1.3, 3.0], [0.2, 0.42, 0.82, 1.9, 4.2], [0.26, 0.62, 1.3, 3.8, 5.2], [0.33, 0.85, 2.2, 4.0, 5.5], [0.75, 1.7, 3.2, 4.9, 6.7], [1.3, 3.0, 4.8, 6.7, 8.7], [2.2, 3.8, 5.7, 7.7, 9.7]], [[-0.009, -0.041, -0.102, -0.197, -0.309], [0.002, -0.016, -0.05, -0.099, -0.164], [0.045, 0.075, 0.143, 0.258, 0.366], [0.08, 0.15, 0.3, 0.55, 0.8], [0.14, 0.25, 0.45, 1.3, 3.0], [0.2, 0.42, 0.82, 1.9, 4.2], [0.26, 0.62, 1.3, 3.8, 5.2], [0.33, 0.85, 2.2, 4.0, 5.5], [0.75, 1.7, 3.2, 4.9, 6.7], [1.3, 3.0, 4.8, 6.7, 8.7], [2.2, 3.8, 5.7, 7.7, 9.7]], [[-0.024, -0.234, -0.528, -0.908, -1.358], [-0.01, -0.184, -0.42, -0.718, -1.077], [0.039, -0.0, -0.024, -0.02, -0.045], [0.08, 0.15, 0.3, 0.55, 0.8], [0.14, 0.25, 0.45, 1.3, 3.0], [0.2, 0.42, 0.82, 1.9, 4.2], [0.26, 0.62, 1.3, 3.8, 5.2], [0.33, 0.85, 2.2, 4.0, 5.5], [0.75, 1.7, 3.2, 4.9, 6.7], [1.3, 3.0, 4.8, 6.7, 8.7], [2.2, 3.8, 5.7, 7.7, 9.7]], [[-0.058, -0.101, -0.24, -0.48, -0.805], [-0.04, -0.068, -0.17, -0.346, -0.596], [0.026, 0.052, 0.089, 0.147, 0.172], [0.08, 0.15, 0.3, 0.55, 0.8], [0.14, 0.25, 0.45, 1.3, 3.0], [0.2, 0.42, 0.82, 1.9, 4.2], [0.26, 0.62, 1.3, 3.8, 5.2], [0.33, 0.85, 2.2, 4.0, 5.5], [0.75, 1.7, 3.2, 4.9, 6.7], [1.3, 3.0, 4.8, 6.7, 8.7], [2.2, 3.8, 5.7, 7.7, 9.7]], [[-0.03, -0.102, -0.275, -0.552, -0.917], [-0.015, -0.069, -0.2, -0.408, -0.693], [0.037, 0.051, 0.075, 0.119, 0.128], [0.08, 0.15, 0.3, 0.55, 0.8], [0.14, 0.25, 0.45, 1.3, 3.0], [0.2, 0.42, 0.82, 1.9, 4.2], [0.26, 0.62, 1.3, 3.8, 5.2], [0.33, 0.85, 2.2, 4.0, 5.5], [0.75, 1.7, 3.2, 4.9, 6.7], [1.3, 3.0, 4.8, 6.7, 8.7], [2.2, 3.8, 5.7, 7.7, 9.7]], [[-0.056, -0.322, -0.661, -1.076, -1.565], [-0.039, -0.272, -0.57, -0.933, -1.361], [0.027, -0.089, -0.234, -0.409, -0.612], [0.08, 0.06, 0.04, 0.02, 0.0], [0.15, 0.3, 0.45, 0.7, 0.85], [0.22, 0.45, 0.78, 1.2, 1.8], [0.3, 0.65, 1.0, 3.0, 5.0], [0.4, 0.9, 2.3, 4.0, 6.0], [0.7, 1.5, 3.0, 4.8, 6.7], [1.1, 2.7, 4.7, 6.7, 8.7], [2.0, 3.6, 5.6, 7.6, 9.6]], [[-0.099, -0.182, -0.39, -0.727, -1.178], [-0.075, -0.138, -0.3, -0.56, -0.92], [0.01, 0.02, 0.03, 0.05, 0.026], [0.08, 0.15, 0.3, 0.55, 0.8], [0.14, 0.25, 0.45, 1.3, 3.0], [0.2, 0.42, 0.82, 1.9, 4.2], [0.26, 0.62, 1.3, 3.8, 5.2], [0.33, 0.85, 2.2, 4.0, 5.5], [0.75, 1.7, 3.2, 4.9, 6.7], [1.3, 3.0, 4.8, 6.7, 8.7], [2.2, 3.8, 5.7, 7.7, 9.7]], [[-0.045, -0.1, -0.263, -0.537, -0.907], [-0.029, -0.068, -0.19, -0.396, -0.684], [0.031, 0.052, 0.08, 0.125, 0.132], [0.08, 0.15, 0.3, 0.55, 0.8], [0.14, 0.25, 0.45, 1.3, 3.0], [0.2, 0.42, 0.82, 1.9, 4.2], [0.26, 0.62, 1.3, 3.8, 5.2], [0.33, 0.85, 2.2, 4.0, 5.5], [0.75, 1.7, 3.2, 4.9, 6.7], [1.3, 3.0, 4.8, 6.7, 8.7], [2.2, 3.8, 5.7, 7.7, 9.7]]];
var TX=[0.1, 4.5, 5.9, 0.13, 1.5, 2.4, 1.2, 3.6, 3.2, 0.17], TC=200;
var COLX=[47,125,203],ROWY=[25,111.2,197.6];
function cov(p,per,w){
 // pixel spans [p,p+1]; lines at k*per (k integer), width w
 var k=Math.round((p+0.5)/per), c=k*per, lo=Math.max(p,c-w/2), hi=Math.min(p+1,c+w/2);
 return Math.max(0,hi-lo);
}
function val(P,x,y){
 var fx=(x-0.7)/0.1; if(fx<0)fx=0; if(fx>3.9999)fx=3.9999; var i=Math.floor(fx),t=fx-i;
 var prev=-1e9, yk;
 for(var k=0;k<LV.length;k++){
  yk=P[k][i]*(1-t)+P[k][i+1]*t; if(yk<prev+1e-3)yk=prev+1e-3;
  if(y<=yk){ if(k==0)return LV[0]; var u=(y-prev)/(yk-prev);return LV[k-1]+(LV[k]-LV[k-1])*u;}
  prev=yk;
 }
 return LV[LV.length-1];
}
for(var r=0;r<3;r++)for(var c=0;c<3;c++){
 var P=PAN[r*3+c]; CM=CMH;
 var x0=COLX[c],y0=Math.round(ROWY[r]);
 for(var Y=y0;Y<y0+77;Y++)for(var X=x0;X<x0+72;X++){
  var x=0.7+(X+0.5-x0)/180, y=2-(Y+0.5-ROWY[r])/18.5;
  var col=cmap(val(P,x,y));
  var o=(Y*313+X)*4;
  var a=0;
  if(TX[0]>0){
   var qy=Y+0.5-ROWY[r]-TX[7]; qy=qy-Math.floor(qy/TX[2])*TX[2];
   a+=(qy<TX[8]?TX[0]:0)*cov(X-x0-TX[4],TX[1],TX[6]) + TX[9]*cov(X-x0-TX[4],TX[1],TX[6]);
   a+=TX[3]*cov(Y-ROWY[r]-TX[5],TX[2],TX[6]);
  }
  d[o]=col[0]+(Math.max(TC,col[0])-col[0])*a;d[o+1]=col[1]+(Math.max(TC,col[1])-col[1])*a;d[o+2]=col[2]+(Math.max(TC,col[2])-col[2])*a;
 }
 CM=CMB; for(var Y=y0;Y<y0+77;Y++){var v=20-(Y+0.5-ROWY[r])/3.66;var col=cmap(v);
  for(var X=277;X<281;X++){var o=(Y*313+X)*4; d[o]=col[0];d[o+1]=col[1];d[o+2]=col[2];}}
}
ctx.putImageData(img,0,0);
})();

</script>
</body></html>
